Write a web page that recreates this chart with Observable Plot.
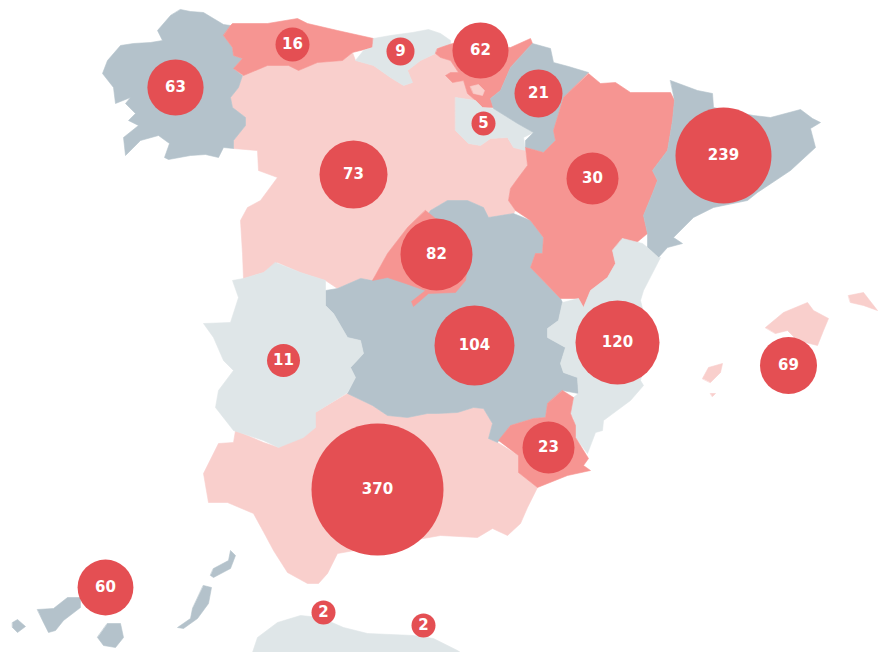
<!DOCTYPE html>
<html><head><meta charset="utf-8">
<script src="https://cdn.jsdelivr.net/npm/d3@7"></script>
<script src="https://cdn.jsdelivr.net/npm/@observablehq/plot@0.6"></script>
<style>html,body{margin:0;padding:0;background:#fff}svg{display:block}</style>
</head><body><div id="chart"></div>
<script>
// Region outlines
const galicia=[[180,9],[190,11],[203,12],[213,18],[223,24],[230,25],[223,35],[232,47],[233,55],[242,58],[233,68],[242,75],[238,87],[230,97],[232,107],[245,117],[245,125],[233,140],[233,148],[223,147],[218,157],[205,154],[190,155],[168,159],[164,157],[169,143],[158,135],[140,140],[125,155],[123,137],[138,125],[128,120],[135,113],[125,103],[130,97],[115,103],[113,87],[102,73],[107,60],[120,45],[133,43],[150,42],[162,40],[157,30],[170,15]];
const asturias=[[230,25],[232,23],[267,23],[297,18],[307,23],[337,30],[373,38],[372,47],[352,52],[342,60],[317,62],[298,70],[288,65],[267,65],[243,75],[233,68],[242,58],[233,55],[232,47],[223,35]];
const castillaLeon=[[242,75],[267,65],[288,65],[298,70],[317,62],[342,60],[352,52],[355,60],[373,65],[390,77],[403,85],[412,82],[407,70],[420,60],[435,53],[440,57],[450,60],[458,72],[450,72],[445,75],[452,82],[463,80],[467,93],[475,100],[455,97],[455,130],[468,143],[480,145],[490,138],[507,137],[513,147],[525,150],[527,167],[517,180],[510,188],[508,200],[515,210],[513,213],[488,217],[483,207],[467,200],[447,200],[430,210],[407,227],[397,240],[387,253],[372,280],[360,278],[337,288],[325,280],[300,272],[277,262],[263,272],[243,278],[242,253],[240,220],[247,207],[260,200],[277,177],[258,170],[257,150],[233,148],[233,140],[245,125],[245,117],[232,107],[230,97],[238,87]];
const cantabria=[[373,38],[390,35],[412,32],[428,29],[440,33],[450,40],[450,45],[437,47],[435,53],[420,60],[407,70],[412,82],[403,85],[390,77],[373,65],[355,60],[363,50],[372,47]];
const paisVasco=[[437,48],[452,43],[510,47],[530,38],[532,43],[510,67],[500,90],[490,98],[493,107],[482,107],[475,100],[467,93],[463,80],[452,82],[445,75],[450,72],[458,72],[450,60],[440,57],[435,53]];
const trevino=[[470,86],[478,84],[484,90],[482,95],[473,93]];
const laRioja=[[455,97],[475,100],[482,107],[493,108],[517,123],[533,132],[523,137],[525,150],[513,147],[507,137],[490,138],[480,145],[468,143],[455,130]];
const navarra=[[532,43],[550,48],[553,62],[568,66],[588,72],[563,97],[553,130],[555,140],[543,152],[525,147],[525,140],[533,132],[517,123],[493,108],[490,98],[500,90],[510,67]];
const aragon=[[588,73],[600,83],[615,82],[630,92],[670,92],[674,100],[672,120],[667,150],[652,170],[657,180],[652,193],[643,215],[647,233],[635,243],[622,238],[612,250],[615,263],[607,277],[590,290],[583,307],[578,298],[560,298],[530,267],[535,253],[542,253],[543,237],[530,220],[515,210],[508,200],[510,188],[518,177],[527,165],[525,147],[543,152],[555,140],[553,130],[563,97]];
const cataluna=[[670,80],[697,90],[712,93],[713,107],[753,115],[770,117],[800,109],[812,118],[820,122],[810,128],[815,147],[790,170],[757,192],[747,200],[713,207],[693,217],[673,237],[682,243],[667,247],[658,257],[647,247],[647,233],[643,215],[652,193],[657,180],[652,170],[667,150],[672,120],[674,100]];
const valencia=[[622,238],[642,243],[647,247],[658,257],[660,257],[643,290],[640,300],[650,340],[640,380],[643,385],[630,400],[603,420],[602,430],[595,432],[587,453],[575,437],[573,418],[570,413],[573,397],[578,393],[577,377],[563,372],[560,363],[565,347],[547,337],[547,328],[558,320],[562,302],[578,298],[583,307],[590,290],[607,277],[615,263],[612,250]];
const castillaMancha=[[372,280],[430,210],[447,200],[467,200],[483,207],[488,217],[513,213],[530,220],[543,237],[542,253],[535,253],[530,267],[560,298],[562,302],[558,320],[547,328],[547,337],[565,347],[560,363],[563,372],[577,377],[578,393],[562,390],[547,403],[545,417],[533,418],[510,425],[497,442],[488,438],[492,423],[483,408],[473,407],[457,412],[437,413],[427,413],[407,417],[387,415],[372,405],[347,393],[355,377],[350,367],[363,353],[360,340],[347,337],[333,313],[325,305],[325,290],[337,288],[360,278]];
const madrid=[[425,210],[440,222],[470,240],[465,280],[455,292],[428,293],[413,306],[411,301],[425,290],[405,283],[387,277],[372,280],[387,253],[397,240],[407,227]];
const extremadura=[[275,262],[300,272],[325,280],[325,305],[333,313],[347,337],[360,340],[363,353],[350,367],[355,377],[347,392],[315,412],[315,427],[303,437],[278,447],[263,440],[233,430],[215,407],[218,390],[233,370],[223,360],[213,337],[203,323],[230,322],[238,297],[232,280],[243,278],[263,272]];
const andalucia=[[347,393],[372,405],[387,415],[407,417],[427,413],[437,413],[457,412],[473,407],[483,408],[492,423],[488,438],[497,442],[518,455],[518,472],[537,487],[527,507],[520,523],[507,535],[492,528],[477,537],[440,535],[337,553],[327,573],[318,583],[307,583],[287,572],[273,550],[265,535],[253,513],[227,502],[208,502],[203,473],[218,443],[233,442],[235,430],[263,442],[278,447],[303,435],[315,427],[313,413]];
const murcia=[[562,390],[573,397],[570,413],[575,425],[575,437],[588,458],[583,465],[590,470],[567,475],[537,487],[518,472],[518,455],[498,440],[510,425],[533,418],[545,417],[547,403]];
const mallorca=[[765,327],[783,312],[807,302],[813,310],[828,318],[823,330],[817,345],[797,340],[787,330],[775,333]];
const menorca=[[848,295],[863,292],[877,310],[863,305],[850,302]];
const ibiza=[[702,378],[708,367],[722,363],[720,372],[710,382]];
const formentera=[[710,393],[715,393],[712,396]];
const gomera=[[12,622],[17,619],[25,626],[17,632],[12,627]];
const tenerife=[[37,609],[53,608],[67,597],[80,597],[80,607],[63,620],[55,630],[48,632],[42,620]];
const granCanaria=[[107,623],[120,623],[123,637],[115,647],[103,645],[97,637]];
const fuerteventura=[[203,585],[211,587],[208,603],[197,618],[183,628],[177,627],[190,618],[192,608]];
const lanzarote=[[213,568],[228,560],[230,550],[235,555],[230,568],[213,577],[210,575]];
const marruecos=[[252,652],[257,637],[277,622],[300,615],[320,617],[343,627],[367,633],[413,635],[433,638],[457,650],[460,652]];

const shapes=[
 [castillaLeon,"pink"],[andalucia,"pink"],[castillaMancha,"dark"],[extremadura,"light"],
 [galicia,"dark"],[asturias,"salmon"],[cantabria,"light"],[paisVasco,"salmon"],[trevino,"pink"],
 [laRioja,"light"],[navarra,"dark"],[aragon,"salmon"],[cataluna,"dark"],[valencia,"light"],
 [madrid,"salmon"],[murcia,"salmon"],[mallorca,"pink"],[menorca,"pink"],[ibiza,"pink"],[formentera,"pink"],
 [gomera,"dark"],[tenerife,"dark"],[granCanaria,"dark"],[fuerteventura,"dark"],[lanzarote,"dark"],[marruecos,"light"]
];
const features=shapes.map(([ring,tier])=>({type:"Feature",properties:{tier},geometry:{type:"Polygon",coordinates:[[...ring,ring[0]]]}}));

const values=[63,16,9,62,21,5,73,30,239,82,104,120,11,69,23,370,60,2,2];
const cx=[175,292,400,480,538,483,353,592,723,436,474,617,283,788,548,377,105,323,423];
const cy=[87,44,51,50,93,123,174,178,155,254,345,342,360,365,447,489,587,612,625];
const bubbles=values.map((v,i)=>({v,x:cx[i],y:cy[i]}));

const chart=Plot.plot({
  width:878,height:652,margin:0,
  projection:"identity",
  style:{background:"#fff"},
  color:{type:"ordinal",domain:["dark","light","pink","salmon"],range:["#b4c2cb","#dfe6e8","#f9cfcc","#f69592"]},
  r:{type:"linear",domain:[2,5,9,11,16,21,23,30,69,73,82,104,120,239,370],range:[12,12,14,16.5,17,24,26,26,28.5,34,36,40,42,48,66]},
  marks:[
    Plot.geo(features,{fill:d=>d.properties.tier,stroke:d=>d.properties.tier,strokeWidth:0.6}),
    Plot.dot(bubbles,{x:"x",y:"y",r:"v",fill:"#e44f53"}),
    Plot.text(bubbles,{x:"x",y:"y",text:d=>String(d.v),fill:"#fff",fontSize:15,fontWeight:"bold",fontFamily:"DejaVu Sans"})
  ]
});
document.getElementById("chart").append(chart);
</script></body></html>
